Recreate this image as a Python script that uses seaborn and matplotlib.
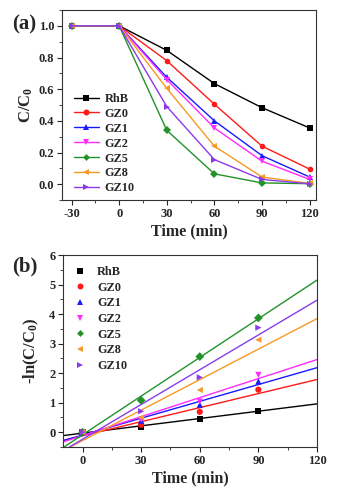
import numpy as np
import pandas as pd
import matplotlib
matplotlib.use("Agg")
import matplotlib.pyplot as plt
import seaborn as sns
from matplotlib.ticker import MultipleLocator
from matplotlib.lines import Line2D

samples = ["RhB", "GZ0", "GZ1", "GZ2", "GZ5", "GZ8", "GZ10"]
colors = ["#000000", "#FF1A1A", "#1A1AFF", "#FF2BFF", "#23922A", "#F59A25", "#8A3CEB"]
markers = ["s", "o", "^", "v", "D", "<", ">"]

time_a = [-30, 0, 30, 60, 90, 120]
c_rhb = [1.0, 1.0, 0.845, 0.635, 0.483, 0.355]
c_gz0 = [1.0, 1.0, 0.780, 0.505, 0.240, 0.095]
c_gz1 = [1.0, 1.0, 0.675, 0.400, 0.180, 0.045]
c_gz2 = [1.0, 1.0, 0.660, 0.355, 0.145, 0.030]
c_gz5 = [1.0, 1.0, 0.340, 0.065, 0.008, 0.003]
c_gz8 = [1.0, 1.0, 0.605, 0.240, 0.045, 0.005]
c_gz10 = [1.0, 1.0, 0.490, 0.155, 0.030, 0.002]

time_b = [0, 30, 60, 90]
k_rhb = [0.0, 0.17, 0.46, 0.73]
k_gz0 = [0.0, 0.25, 0.69, 1.44]
k_gz1 = [0.0, 0.39, 0.93, 1.72]
k_gz2 = [0.0, 0.42, 1.04, 1.94]
k_gz5 = [0.0, 1.08, 2.56, 3.87]
k_gz8 = [0.0, 0.50, 1.43, 3.13]
k_gz10 = [0.0, 0.71, 1.86, 3.54]

series_a = [c_rhb, c_gz0, c_gz1, c_gz2, c_gz5, c_gz8, c_gz10]
series_b = [k_rhb, k_gz0, k_gz1, k_gz2, k_gz5, k_gz8, k_gz10]

df_a = pd.DataFrame([(s, t, v) for s, vals in zip(samples, series_a) for t, v in zip(time_a, vals)],
                    columns=["sample", "time", "value"])
df_b = pd.DataFrame([(s, t, v) for s, vals in zip(samples, series_b) for t, v in zip(time_b, vals)],
                    columns=["sample", "time", "value"])

sns.set_style("ticks")
plt.rcParams["font.family"] = ["Liberation Serif", "DejaVu Serif"]
plt.rcParams["font.weight"] = "bold"
plt.rcParams["axes.unicode_minus"] = False
plt.rcParams["mathtext.fontset"] = "custom"
plt.rcParams["mathtext.rm"] = "Liberation Serif:bold"
plt.rcParams["mathtext.bf"] = "Liberation Serif:bold"
plt.rcParams["mathtext.default"] = "bf"

W, H = 340, 493
fig = plt.figure(figsize=(W / 100, H / 100), dpi=100)
ax1 = fig.add_axes([62 / W, 1 - 200 / H, 254 / W, 190 / H])
ax2 = fig.add_axes([63 / W, 1 - 447 / H, 254 / W, 192 / H])

pal = dict(zip(samples, colors))
mk = dict(zip(samples, markers))
msize = {"s": 3.8, "o": 4.3, "^": 4.3, "v": 4.3, "D": 3.5, "<": 4.3, ">": 4.3}

sns.lineplot(data=df_a, x="time", y="value", hue="sample", style="sample", hue_order=samples,
             style_order=samples, palette=pal, markers=mk, dashes=False, markersize=4.0,
             linewidth=1.0, markeredgewidth=0, ax=ax1, legend=False)
ax1.set_xlim(-36, 124)
ax1.set_ylim(-0.1, 1.1)
ax1.xaxis.set_major_locator(MultipleLocator(30))
ax1.xaxis.set_minor_locator(MultipleLocator(15))
ax1.yaxis.set_major_locator(MultipleLocator(0.2))
ax1.yaxis.set_minor_locator(MultipleLocator(0.1))
ax1.set_xlabel("Time (min)", fontsize=11.5, fontweight="bold", labelpad=3)
ax1.set_ylabel("C/C$_0$", fontsize=12, fontweight="bold", labelpad=3)
h1 = [Line2D([], [], color=c, marker=m, ms=msize[m], mew=0, lw=1.0) for c, m in zip(colors, markers)]
leg1 = ax1.legend(h1, samples, loc="lower left", bbox_to_anchor=(0.0, -0.035), frameon=False,
                  fontsize=8.8, handlelength=2.0, handletextpad=0.5, labelspacing=0.24,
                  borderaxespad=0.6)
for t in leg1.get_texts():
    t.set_fontweight("bold")

ax2.set_xlim(-10, 120)
ax2.set_ylim(-0.5, 6)
for s, c in zip(samples, colors):
    sub = df_b[df_b["sample"] == s]
    sns.regplot(data=sub, x="time", y="value", scatter=False, ci=None, truncate=False,
                color=c, line_kws={"linewidth": 1.0}, ax=ax2)
sns.scatterplot(data=df_b, x="time", y="value", hue="sample", style="sample", hue_order=samples,
                style_order=samples, palette=pal, markers=mk, s=20, linewidth=0, ax=ax2,
                legend=False, zorder=3)
ax2.set_xlim(-10, 120)
ax2.set_ylim(-0.5, 6)
ax2.xaxis.set_major_locator(MultipleLocator(30))
ax2.xaxis.set_minor_locator(MultipleLocator(15))
ax2.yaxis.set_major_locator(MultipleLocator(1))
ax2.yaxis.set_minor_locator(MultipleLocator(0.5))
ax2.set_xlabel("Time (min)", fontsize=11.5, fontweight="bold", labelpad=3)
ax2.set_ylabel("-ln(C/C$_0$)", fontsize=12, fontweight="bold", labelpad=6)
h2 = [Line2D([], [], color=c, marker=m, ms=msize[m], mew=0, ls="") for c, m in zip(colors, markers)]
leg2 = ax2.legend(h2, samples, loc="upper left", frameon=False, fontsize=8.8, handlelength=1.0,
                  handletextpad=0.9, labelspacing=0.3, borderaxespad=0.5)
for t in leg2.get_texts():
    t.set_fontweight("bold")

for ax in (ax1, ax2):
    for sp in ax.spines.values():
        sp.set_visible(True)
        sp.set_linewidth(0.8)
        sp.set_color("#333333")
    ax.tick_params(axis="both", which="major", direction="out", length=3.5, width=0.8,
                   labelsize=9, pad=2)
    ax.tick_params(axis="both", which="minor", direction="out", length=2, width=0.6)
    for lab in ax.get_xticklabels() + ax.get_yticklabels():
        lab.set_fontweight("bold")

fig.text(12 / W, 1 - 24 / H, "(a)", fontsize=15, fontweight="bold", va="center", ha="left")
fig.text(12 / W, 1 - 266 / H, "(b)", fontsize=15, fontweight="bold", va="center", ha="left")

fig.savefig("out.png", dpi=100, facecolor="white")
